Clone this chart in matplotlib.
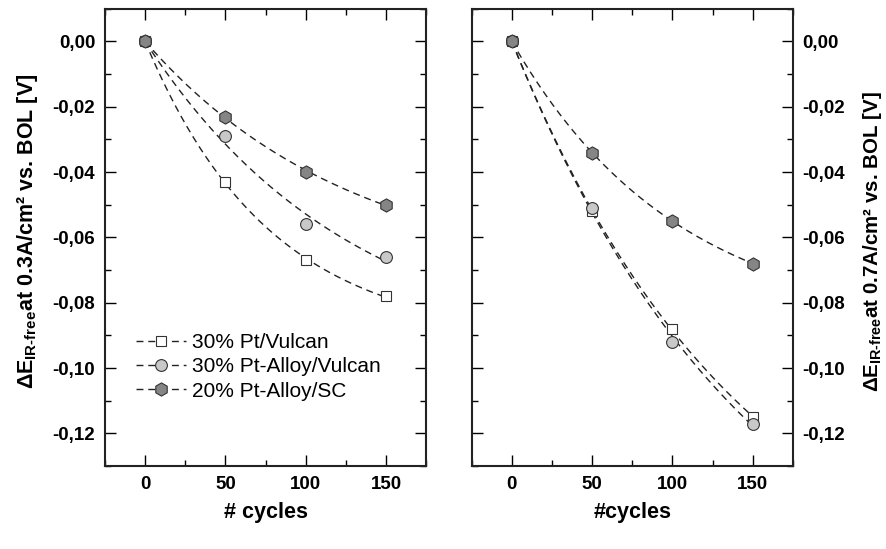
import numpy as np
import matplotlib.pyplot as plt
from matplotlib.ticker import MultipleLocator, FuncFormatter

plt.rcParams['font.family'] = ['Liberation Sans', 'DejaVu Sans']
plt.rcParams['mathtext.fontset'] = 'custom'
plt.rcParams['mathtext.rm'] = 'Liberation Sans:bold'
plt.rcParams['mathtext.it'] = 'Liberation Sans:bold'
plt.rcParams['mathtext.bf'] = 'Liberation Sans:bold'

cycles = [0, 50, 100, 150]
labels = ["30% Pt/Vulcan", "30% Pt-Alloy/Vulcan", "20% Pt-Alloy/SC"]

# left panel: 0.3 A/cm2
left_pt_vulcan = [0.0, -0.043, -0.067, -0.078]
left_alloy_vulcan = [0.0, -0.029, -0.056, -0.066]
left_alloy_sc = [0.0, -0.023, -0.040, -0.050]

# right panel: 0.7 A/cm2
right_pt_vulcan = [0.0, -0.052, -0.088, -0.115]
right_alloy_vulcan = [0.0, -0.051, -0.092, -0.117]
right_alloy_sc = [0.0, -0.034, -0.055, -0.068]

styles = [
    dict(marker="s", mfc="white", ms=7.5),
    dict(marker="o", mfc="#c8c8c8", ms=8.5),
    dict(marker="h", mfc="#858585", ms=9.5),
]
dash = (0, (5, 3.5))


def exp_fit(x, y):
    # y = a * (1 - exp(-x / b)), least squares for a, grid search for b
    x = np.asarray(x, float)
    y = np.asarray(y, float)
    best = None
    for b in np.linspace(20, 3000, 3000):
        g = 1 - np.exp(-x / b)
        a = np.dot(g, y) / np.dot(g, g)
        err = np.sum((a * g - y) ** 2)
        if best is None or err < best[0]:
            best = (err, a, b)
    return best[1], best[2]


fig = plt.figure(figsize=(8.87, 5.49), dpi=100)
ax1 = fig.add_axes([0.1184, 0.151, 0.362, 0.833])
ax2 = fig.add_axes([0.5318, 0.151, 0.362, 0.833])


def comma_fmt(v, pos):
    return ("%.2f" % v).replace(".", ",").replace("-0,00", "0,00")


def draw_panel(ax, series):
    xs = np.linspace(0, 150, 200)
    for vals, st, lab in zip(series, styles, labels):
        a, b = exp_fit(cycles, vals)
        ax.plot(xs, a * (1 - np.exp(-xs / b)), ls=dash, color="#222222",
                lw=1.0, zorder=2)
        ax.plot(cycles, vals, ls="none", marker=st["marker"], ms=st["ms"],
                mfc=st["mfc"], mec="#333333", mew=0.8, zorder=3)
        # legend handle
        ax.plot([], [], ls=dash, color="#222222", lw=1.0,
                marker=st["marker"], ms=st["ms"], mfc=st["mfc"],
                mec="#333333", mew=0.8, label=lab)
    ax.set_xlim(-25, 175)
    ax.set_ylim(-0.13, 0.01)
    ax.xaxis.set_major_locator(MultipleLocator(50))
    ax.xaxis.set_minor_locator(MultipleLocator(25))
    ax.yaxis.set_major_locator(MultipleLocator(0.02))
    ax.yaxis.set_minor_locator(MultipleLocator(0.01))
    ax.yaxis.set_major_formatter(FuncFormatter(comma_fmt))
    ax.tick_params(which="both", direction="in", top=True, right=True,
                   width=1.0, labelsize=13.5)
    ax.tick_params(which="major", length=8, pad=7)
    ax.tick_params(which="minor", length=4)
    for sp in ax.spines.values():
        sp.set_linewidth(1.5)
        sp.set_color("#222222")


draw_panel(ax1, [left_pt_vulcan, left_alloy_vulcan, left_alloy_sc])
draw_panel(ax2, [right_pt_vulcan, right_alloy_vulcan, right_alloy_sc])

ax2.yaxis.set_label_position("right")
ax2.yaxis.tick_right()
ax2.tick_params(which="both", left=True)

for ax in (ax1, ax2):
    for lbl in ax.get_xticklabels() + ax.get_yticklabels():
        lbl.set_fontweight("bold")

ax1.set_xlabel("# cycles", fontsize=15.5, fontweight="bold")
ax2.set_xlabel("#cycles", fontsize=15.5, fontweight="bold")
ax1.xaxis.set_label_coords(0.5, -0.079)
ax2.xaxis.set_label_coords(0.5, -0.079)
ax1.set_ylabel(r"$\Delta E_{\rm IR\text{-}free}$at 0.3A/cm² vs. BOL [V]",
               fontsize=15.5, fontweight="bold")
ax1.yaxis.set_label_coords(-0.202, 0.514)
ax2.set_ylabel(r"$\Delta E_{\rm IR\text{-}free}$at 0.7A/cm² vs. BOL [V]",
               fontsize=14.8, fontweight="bold", rotation=90)
ax2.yaxis.set_label_coords(1.213, 0.49)

ax1.legend(loc="lower left", bbox_to_anchor=(0.07, 0.125), frameon=False,
           fontsize=15, handlelength=2.4, handletextpad=0.3,
           labelspacing=0.25, numpoints=1, borderaxespad=0)

fig.savefig("out.png", dpi=100)
